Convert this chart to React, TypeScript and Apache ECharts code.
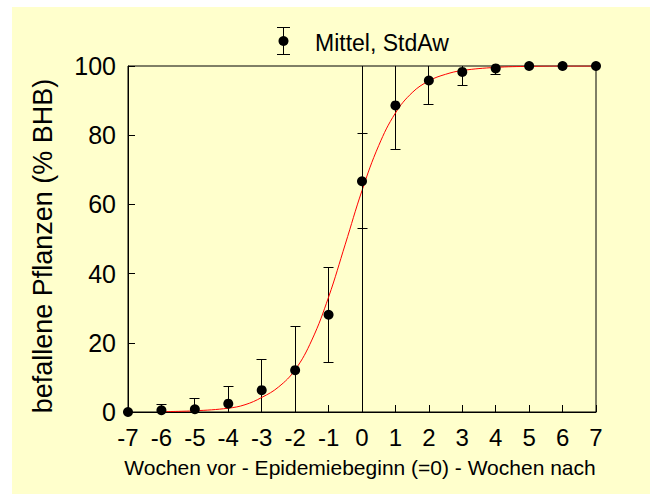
import React, { useEffect, useRef } from "react";
import * as echarts from "echarts";

const weeks = [-7, -6, -5, -4, -3, -2, -1, 0, 1, 2, 3, 4, 5, 6, 7];
const meanValues = [0, 0.5, 0.8, 2.4, 6.3, 12.1, 28.1, 66.7, 88.6, 95.8, 98.3, 99.3, 100, 100, 100];
const lowerValues = [0, -1.2, -2.2, -2.6, -2.5, -0.6, 14.3, 52.9, 75.8, 89.0, 94.5, 97.6, 100, 100, 100];
const upperValues = [0, 2.2, 3.8, 7.4, 15.1, 24.8, 41.8, 80.5, 101.4, 102.6, 102.1, 101.0, 100, 100, 100];

const curveX = [-6, -5, -4, -3.5, -3, -2.5, -2, -1.5, -1, -0.5, 0, 0.5, 1, 1.5, 2, 2.5, 3, 4, 5, 6, 7];
const curveY = [0.1, 0.35, 1.1, 2.1, 4.2, 7.2, 12.2, 20.8, 33.2, 48.5, 64, 77, 86.4, 92.3, 95.7, 97.6, 98.7, 99.6, 99.9, 100, 100];

const yTicks = [0, 20, 40, 60, 80, 100];

const legendLabel = "Mittel, StdAw";
const xTitle = "Wochen vor - Epidemiebeginn (=0) - Wochen nach";
const yTitle = "befallene Pflanzen (% BHB)";

const FONT = "'Liberation Sans', Arial, sans-serif";

export default function App() {
  const ref = useRef<HTMLDivElement>(null);
  useEffect(() => {
    if (!ref.current) return;
    const chart = echarts.init(ref.current, null, { renderer: "svg" });
    const errData = weeks.map((w, i) => [w, lowerValues[i], upperValues[i]]);
    const meanData = weeks.map((w, i) => [w, meanValues[i]]);
    const curveData = curveX.map((x, i) => [x, curveY[i]]);
    chart.setOption({
      animation: false,
      backgroundColor: "#FFFFCC",
      textStyle: { fontFamily: FONT },
      grid: {
        left: 116,
        top: 59,
        right: 54,
        bottom: 82,
        show: true,
        borderColor: "#000",
        borderWidth: 1,
        backgroundColor: "transparent",
      },
      xAxis: {
        type: "value",
        min: -7,
        max: 7,
        interval: 1,
        axisLine: { show: true, onZero: false, lineStyle: { color: "#000", width: 1 } },
        axisTick: { show: true, inside: true, length: 7, lineStyle: { color: "#000" } },
        axisLabel: { fontSize: 24, color: "#000", margin: 13, fontFamily: FONT },
        splitLine: { show: false },
      },
      yAxis: {
        type: "value",
        min: 0,
        max: 100,
        interval: 20,
        axisLine: { show: true, onZero: false, lineStyle: { color: "#000", width: 1 } },
        axisTick: { show: true, inside: true, length: 7, lineStyle: { color: "#000" } },
        axisLabel: {
          fontSize: 25,
          color: "#000",
          margin: 12,
          fontFamily: FONT,
          formatter: (v: number) => (yTicks.includes(v) ? String(v) : ""),
        },
        splitLine: { show: false },
      },
      graphic: [
        { type: "line", shape: { x1: 271.5, y1: 20.5, x2: 271.5, y2: 47.5 }, style: { stroke: "#000", lineWidth: 1 } },
        { type: "line", shape: { x1: 265, y1: 20.5, x2: 278, y2: 20.5 }, style: { stroke: "#000", lineWidth: 1 } },
        { type: "line", shape: { x1: 265, y1: 47.5, x2: 278, y2: 47.5 }, style: { stroke: "#000", lineWidth: 1 } },
        { type: "circle", shape: { cx: 271.5, cy: 34, r: 5 }, style: { fill: "#000" } },
        {
          type: "text",
          x: 303,
          y: 36,
          style: { text: legendLabel, fontSize: 23, fontFamily: FONT, fill: "#000", textVerticalAlign: "middle", textAlign: "left" },
        },
        {
          type: "text",
          x: 348,
          y: 460,
          style: { text: xTitle, fontSize: 21, fontFamily: FONT, fill: "#000", textVerticalAlign: "middle", textAlign: "center" },
        },
        {
          type: "text",
          x: 31,
          y: 239,
          rotation: Math.PI / 2,
          style: { text: yTitle, fontSize: 27, fontFamily: FONT, fill: "#000", textVerticalAlign: "middle", textAlign: "center" },
        },
      ],
      series: [
        {
          type: "custom",
          z: 2,
          clip: true,
          encode: { x: 0, y: [1, 2] },
          data: errData,
          renderItem: (params: any, api: any) => {
            const x = api.value(0);
            const lo = api.value(1);
            const hi = api.value(2);
            if (lo === hi) return null;
            const pLo = api.coord([x, lo]);
            const pHi = api.coord([x, hi]);
            const cx = Math.round(pLo[0] - 0.5) + 0.5;
            const yLo = Math.round(pLo[1] - 0.5) + 0.5;
            const yHi = Math.round(pHi[1] - 0.5) + 0.5;
            const hw = 5;
            const st = { stroke: "#000", lineWidth: 1 };
            return {
              type: "group",
              children: [
                { type: "line", shape: { x1: cx, y1: yLo, x2: cx, y2: yHi }, style: st },
                { type: "line", shape: { x1: cx - hw, y1: yHi, x2: cx + hw, y2: yHi }, style: st },
                { type: "line", shape: { x1: cx - hw, y1: yLo, x2: cx + hw, y2: yLo }, style: st },
              ],
            };
          },
          markLine: {
            silent: true,
            symbol: "none",
            label: { show: false },
            lineStyle: { color: "#000", width: 1, type: "solid" },
            data: [{ xAxis: 0 }],
          },
        },
        {
          type: "line",
          z: 3,
          data: curveData,
          smooth: 0.4,
          showSymbol: false,
          symbol: "none",
          lineStyle: { color: "#FF0000", width: 1 },
        },
        {
          type: "scatter",
          z: 4,
          data: meanData,
          symbol: "circle",
          symbolSize: 10,
          itemStyle: { color: "#000", opacity: 1 },
        },
      ],
    });
    return () => chart.dispose();
  }, []);
  return (
    <div style={{ position: "absolute", left: 0, top: 0, width: 650, height: 494, background: "#fff" }}>
      <div ref={ref} style={{ position: "absolute", left: 12, top: 7, width: 638, height: 487 }} />
    </div>
  );
}
